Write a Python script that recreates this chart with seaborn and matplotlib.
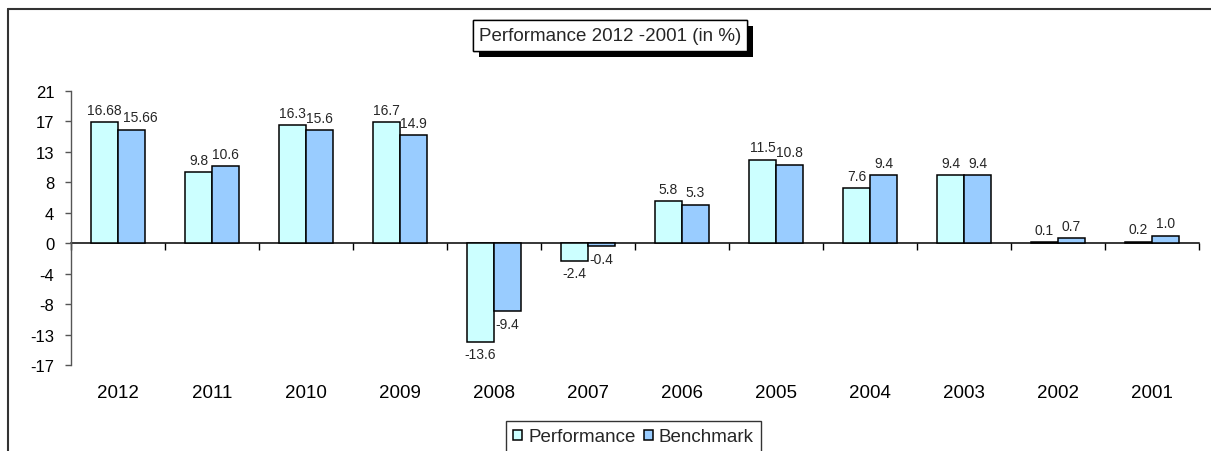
import matplotlib
matplotlib.use("Agg")
import matplotlib.pyplot as plt
import matplotlib.patheffects as pe
from matplotlib.lines import Line2D
from matplotlib.patches import Rectangle
from matplotlib.ticker import FixedLocator, FuncFormatter
import numpy as np
import pandas as pd
import seaborn as sns

# Annual returns, newest year first
years = ["2012", "2011", "2010", "2009", "2008", "2007",
         "2006", "2005", "2004", "2003", "2002", "2001"]
performance = [16.68, 9.8, 16.3, 16.7, -13.6, -2.4, 5.8, 11.5, 7.6, 9.4, 0.1, 0.2]
benchmark = [15.66, 10.6, 15.6, 14.9, -9.4, -0.4, 5.3, 10.8, 9.4, 9.4, 0.7, 1.0]
series_names = ["Performance", "Benchmark"]
series_colors = ["#CCFFFF", "#99CCFF"]
title = "Performance 2012 -2001 (in %)"

# value axis: steps of 4.2 from -16.8 to 21
y_step = 4.2
y_tick_steps = np.arange(-4, 6)

W, H = 1211, 452
DPI = 100

sns.set_theme(style="white")
plt.rcParams["font.family"] = ["Liberation Sans", "DejaVu Sans"]

df = pd.DataFrame({
    "year": years * 2,
    "value": performance + benchmark,
    "series": [series_names[0]] * len(years) + [series_names[1]] * len(years),
})

fig = plt.figure(figsize=(W / DPI, H / DPI), dpi=DPI)
fig.patch.set_facecolor("white")
ax = fig.add_axes([71 / W, 1 - 366 / H, (1199 - 71) / W, (366 - 92) / H])

sns.barplot(data=df, x="year", y="value", hue="series", order=years,
            hue_order=series_names, palette=series_colors, saturation=1,
            width=0.575, gap=0, edgecolor="black", linewidth=1.1,
            errorbar=None, ax=ax)


def fmt(v):
    s = f"{v:.2f}".rstrip("0")
    return s + "0" if s.endswith(".") else s


label_sets = []
for cont, vals in zip(ax.containers, [performance, benchmark]):
    label_sets.append(ax.bar_label(cont, labels=[fmt(v) for v in vals],
                                   padding=4, fontsize=10))

ticks = y_step * y_tick_steps
ax.set_xlim(-0.5, len(years) - 0.5)
ax.set_ylim(ticks[0], ticks[-1])
ax.yaxis.set_major_locator(FixedLocator(ticks))
ax.yaxis.set_major_formatter(FuncFormatter(lambda v, _: f"{v + 0.0:.0f}"))
ax.set_xlabel("")
ax.set_ylabel("")

sns.despine(ax=ax, top=True, right=True, bottom=True)
ax.spines["left"].set_color("#555555")
ax.spines["left"].set_linewidth(1)
ax.tick_params(axis="y", left=True, direction="out", length=4, width=1,
               color="#555555", pad=8, labelsize=12, labelcolor="black")
ax.tick_params(axis="x", bottom=False, length=0, pad=14, labelsize=13.5,
               labelcolor="black")

# category axis line drawn at value zero, ticks between the groups
zero_axis = ax.secondary_xaxis(0, transform=ax.transData)
zero_axis.set_xticks(np.arange(len(years) + 1) - 0.5)
zero_axis.tick_params(axis="x", bottom=True, direction="out", length=5,
                      width=1, color="black", labelbottom=False)
zero_axis.spines["bottom"].set_color("black")
zero_axis.spines["bottom"].set_linewidth(1.1)

# legend along the bottom edge
handles, labels = ax.get_legend_handles_labels()
if ax.get_legend() is not None:
    ax.get_legend().remove()
leg = fig.legend(handles, labels, loc="upper center",
                 bbox_to_anchor=(633.5 / W, 1 - 422 / H), ncol=2,
                 frameon=True, fancybox=False, edgecolor="black",
                 fontsize=13.5, handlelength=0.5, handleheight=0.5,
                 handletextpad=0.3, columnspacing=0.45, borderpad=0.4,
                 borderaxespad=0)
leg.get_frame().set_linewidth(1)

# title box with drop shadow
box = Rectangle((473 / W, 1 - 52 / H), 274 / W, 31 / H, transform=fig.transFigure,
                facecolor="white", edgecolor="black", linewidth=1, zorder=3)
box.set_path_effects([pe.withSimplePatchShadow(offset=(4, -4), shadow_rgbFace="black",
                                                alpha=1), pe.Normal()])
fig.add_artist(box)
fig.text(610 / W, 1 - 36.5 / H, title, ha="center", va="center",
         fontsize=13.5, zorder=4)

# chart frame (extends past the right and bottom edges)
frame_kw = dict(transform=fig.transFigure, color="#333333", linewidth=1.5)
fig.add_artist(Line2D([8 / W, 8 / W], [0, 1 - 10 / H], **frame_kw))
fig.add_artist(Line2D([8 / W, 1], [1 - 10 / H, 1 - 10 / H], **frame_kw))

# nudge a benchmark label sideways when it collides with its neighbour
fig.canvas.draw()
renderer = fig.canvas.get_renderer()
for left_lbl, right_lbl in zip(label_sets[0], label_sets[1]):
    a = left_lbl.get_window_extent(renderer)
    b = right_lbl.get_window_extent(renderer)
    if a.overlaps(b):
        shift_px = a.x1 - b.x0 + 1
        dx, dy = right_lbl.xyann
        right_lbl.xyann = (dx + shift_px * 72 / DPI, dy)

fig.savefig("out.png", dpi=DPI)
